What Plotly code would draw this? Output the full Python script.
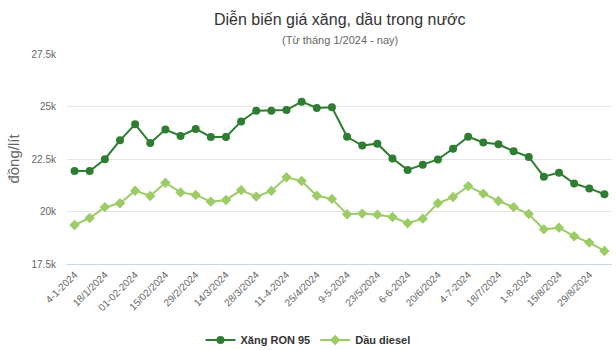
import plotly.graph_objects as go

dates = ["4-1-2024", "11/1/2024", "18/1/2024", "25/1/2024", "01-02-2024", "8/2/2024",
         "15/02/2024", "22/2/2024", "29/2/2024", "7/3/2024", "14/3/2024", "21/3/2024",
         "28/3/2024", "4/4/2024", "11-4-2024", "18/4/2024", "25/4/2024", "2/5/2024",
         "9-5-2024", "16/5/2024", "23/5/2024", "30/5/2024", "6-6-2024", "13/6/2024",
         "20/6/2024", "27/6/2024", "4-7-2024", "11/7/2024", "18/7/2024", "25/7/2024",
         "1-8-2024", "8/8/2024", "15/8/2024", "22/8/2024", "29/8/2024", "5/9/2024"]

ron95 = [21930, 21930, 22490, 23390, 24150, 23260, 23900, 23600, 23930, 23550, 23550, 24290,
         24800, 24800, 24830, 25230, 24930, 24960, 23560, 23140, 23230, 22520, 21980, 22230,
         22480, 22990, 23560, 23290, 23200, 22870, 22600, 21660, 21850, 21330, 21100, 20820]

diesel = [19360, 19690, 20210, 20390, 20990, 20740, 21370, 20910, 20790, 20470, 20550, 21020,
          20710, 20980, 21630, 21450, 20750, 20600, 19870, 19900, 19850, 19740, 19440, 19660,
          20390, 20690, 21210, 20850, 20500, 20210, 19880, 19150, 19230, 18820, 18520, 18120]

tick_labels = dates[::2]
y_ticks = [17500, 20000, 22500, 25000, 27500]
y_tick_text = ["17.5k", "20k", "22.5k", "25k", "27.5k"]

title_text = "Diễn biến giá xăng, dầu trong nước"
subtitle_text = "(Từ tháng 1/2024 - nay)"

font_family = "Liberation Sans, Arial, sans-serif"

fig = go.Figure()
fig.add_trace(go.Scatter(
    x=dates, y=ron95, name="Xăng RON 95", mode="lines+markers",
    line=dict(color="#2e7d32", width=2),
    marker=dict(symbol="circle", size=8, color="#2e7d32"),
))
fig.add_trace(go.Scatter(
    x=dates, y=diesel, name="Dầu diesel", mode="lines+markers",
    line=dict(color="#9ccc65", width=2),
    marker=dict(symbol="diamond", size=8, color="#9ccc65"),
))

fig.add_annotation(text=title_text, xref="paper", yref="paper", x=0.5, xanchor="center",
                   y=1, yanchor="bottom", yshift=24, showarrow=False,
                   font=dict(size=16, color="#333333", family=font_family))
fig.add_annotation(text=subtitle_text, xref="paper", yref="paper", x=0.5, xanchor="center",
                   y=1, yanchor="bottom", yshift=6, showarrow=False,
                   font=dict(size=11, color="#666666", family=font_family))

fig.update_layout(
    width=616, height=350,
    margin=dict(l=67, r=4, t=54, b=86),
    paper_bgcolor="white", plot_bgcolor="white",
    font=dict(family=font_family, color="#333333"),
    showlegend=True,
    legend=dict(orientation="h", x=0.5, xanchor="center", xref="container",
                y=0.07, yanchor="top", yref="container",
                font=dict(size=11, color="#333333", family=font_family, weight="bold"),
                itemwidth=30),
    xaxis=dict(
        type="category", range=[-0.5, len(dates) - 0.5], automargin=False,
        tickmode="array", tickvals=tick_labels, ticktext=tick_labels,
        tickangle=-45, tickfont=dict(size=10, color="#666666"),
        showgrid=False, showline=True, linecolor="#ccd6eb", linewidth=1,
        ticks="", zeroline=False,
    ),
    yaxis=dict(
        range=[17500, 27500], tickmode="array", tickvals=y_ticks, ticktext=y_tick_text,
        tickfont=dict(size=10, color="#666666"), automargin=False, ticklabelstandoff=10,
        showgrid=True, gridcolor="#e6e6e6", gridwidth=1, zeroline=False,
        title=dict(text="đồng/lít", font=dict(size=15, color="#666666"), standoff=8),
    ),
)

fig.write_html("out.html")
